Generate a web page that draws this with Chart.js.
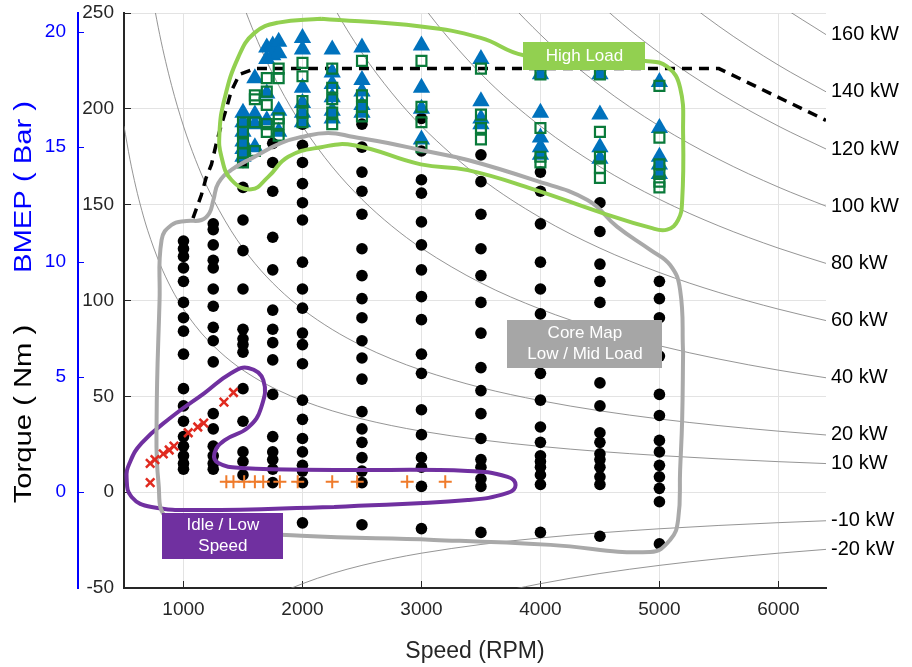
<!DOCTYPE html>
<html>
<head>
<meta charset="utf-8">
<script src="https://cdn.jsdelivr.net/npm/chart.js@4.4.1/dist/chart.umd.min.js"></script>
<style>
  html, body { margin: 0; padding: 0; background: #fff; }
  #map { display: block; }
</style>
</head>
<body>
<canvas id="map" width="912" height="667"></canvas>
<script>
// speed in rpm, torque in Nm
const coreRpm = [1000, 1250, 1500, 1750, 2000, 2500, 3000, 3500, 4000, 4500, 5000];
const coreTorque = [
  [131, 127, 123, 117, 110, 99, 91, 84, 72, 54, 45, 37, 29, 24, 19, 15, 12],
  [140, 137, 129, 121, 117, 106, 97, 86, 79, 68, 41, 33, 24, 19, 15, 12],
  [172, 159, 142, 126, 106, 85, 80, 77, 73, 54, 37, 21, 16, 9],
  [182, 172, 157, 133, 116, 95, 85, 78, 69, 51, 29, 21, 17, 12, 5],
  [192, 181, 172, 161, 151, 142, 120, 106, 96, 83, 77, 67, 48, 38, 28, 21, 14, 11, 5, -16],
  [192, 180, 167, 157, 145, 127, 113, 101, 91, 79, 70, 59, 42, 33, 26, 18, 11, 5, -17],
  [195, 178, 163, 156, 141, 129, 116, 102, 90, 72, 62, 43, 30, 18, 13, 3, -19],
  [176, 162, 145, 127, 113, 99, 83, 65, 53, 41, 28, 17, 13, 7, 3, -21],
  [167, 157, 140, 120, 106, 93, 76, 62, 48, 34, 26, 19, 16, 13, 9, 4, -21],
  [151, 136, 119, 110, 99, 57, 45, 31, 26, 20, 17, 13, 8, 4, -23],
  [110, 101, 91, 71, 51, 40, 27, 21, 14, 8, 2, -5, -27]
];

const highRpm = [1500, 1600, 1700, 1750, 1800, 2000, 2250, 2500, 3000, 3500, 4000, 4500, 5000];
const highTriTorque = [
  [198, 193, 188, 183, 179, 175],
  [216, 197, 192, 180],
  [232, 226, 208, 194],
  [233, 228],
  [235, 229, 199, 188],
  [237, 231, 211, 203, 198, 193],
  [231, 219, 213, 206, 199, 195],
  [232, 215, 209, 202, 198],
  [233, 211, 200, 184],
  [226, 204, 195, 192],
  [218, 198, 185, 180, 176],
  [218, 197, 180, 174],
  [214, 190, 175, 171, 166]
];
const highSqTorque = [
  [193, 188, 182, 177, 172],
  [207, 205, 193, 178],
  [216, 209, 202, 192, 188],
  [],
  [221, 216, 195, 192, 186],
  [224, 217, 204, 198, 193],
  [221, 211, 205, 198, 192],
  [225, 207, 201, 196],
  [225, 201, 193, 180],
  [221, 197, 190, 184],
  [218, 190, 175, 172],
  [218, 188, 175, 169, 164],
  [212, 185, 171, 166, 162, 159]
];

const idleRpm = [720, 720, 760, 830, 880, 920, 1040, 1120, 1170, 1340, 1420];
const idleTorque = [5, 15, 17, 20, 22, 24, 31, 34, 36, 47, 52];

const lowSpeedRpm = [1360, 1420, 1510, 1600, 1670, 1810, 1960, 2250, 2460, 2880, 3200];
const lowSpeedTorque = [5.5, 5.5, 5.5, 5.5, 5.5, 5.5, 5.5, 5.5, 5.5, 5.5, 5.5];

const maxRpm = [1080, 1150, 1190, 1235, 1280, 1320, 1360, 1400, 1470, 1600, 5500, 6400];
const maxTorque = [143, 155, 164, 171, 183, 192, 200, 209, 218, 221, 221, 194];

// hand drawn region outlines
const highLoadRpm = [2157, 2995, 3498, 3858, 4378, 4881, 5065, 5174, 5199, 5191, 5157, 5065, 4923, 4504, 3942, 3389, 2995, 2433, 2157, 1880, 1712, 1570, 1402, 1319, 1302, 1344, 1461, 1595, 1796, 2157];
const highLoadTorque = [247, 243, 237, 228, 226.5, 225, 222, 211, 187, 152, 142, 137, 138, 146, 158, 168, 171, 181, 180, 175, 164.5, 158, 163, 175, 187, 205, 227, 239.5, 245, 247];

const coreRegionRpm = [5199, 5191, 5174, 5157, 5090, 4923, 4085, 3104, 1989, 1151, 858, 790, 774, 799, 816, 899, 1025, 1151, 1218, 1251, 1293, 1402, 1595, 1821, 1989, 2215, 2433, 2718, 2995, 3389, 3942, 4395, 4646, 4923, 5090, 5174, 5199];
const coreRegionTorque = [72.6, 37.7, 11.6, -14.5, -24.9, -31.2, -27.5, -24.9, -22.8, -18.7, -13.5, 4.8, 37.7, 100.3, 131.6, 139.4, 141.5, 142, 145.7, 152.4, 161.3, 168.1, 174.9, 182.2, 185.3, 187.4, 185.3, 182.2, 178.5, 173.3, 162.9, 152.4, 138.4, 126.4, 118.5, 105.5, 72.6];

const idleRegionRpm = [2266, 3389, 3724, 3791, 3724, 3389, 2266, 1486, 1293, 1260, 1344, 1545, 1654, 1671, 1545, 1402, 1176, 899, 648, 547, 522, 564, 732, 1151, 2266];
const idleRegionTorque = [-7.7, -4.1, -0.4, 3.8, 8, 11.1, 11.6, 12.6, 15.2, 20.3, 27, 33.8, 44.3, 58.5, 64.8, 62.2, 51.7, 39.2, 25.6, 15.2, 7.4, -2.5, -7.7, -9.3, -7.7];

// constant power lines
const kwLevels = [160, 140, 120, 100, 80, 60, 40, 20, 10, -10, -20];
const curveRpm = [500, 550, 600, 650, 700, 800, 900, 1000, 1100, 1200, 1400, 1600, 1800, 2000, 2250, 2500, 2750, 3000, 3500, 4000, 4500, 5000, 5500, 6000, 6400];

const speedTicks = [1000, 2000, 3000, 4000, 5000, 6000];
const torqueTicks = [-50, 0, 50, 100, 150, 200, 250];
const bmepTicks = [0, 5, 10, 15, 20];

const FONT = '"Liberation Sans", Arial, sans-serif';
Chart.defaults.font.family = FONT;
Chart.defaults.color = '#262626';

function pairs(xs, ys) {
  return xs.map((v, i) => ({ x: v, y: ys[i] }));
}
function columns(xs, groups) {
  const out = [];
  xs.forEach((v, i) => groups[i].forEach(t => out.push({ x: v, y: t })));
  return out;
}
function powerLine(kw) {
  return curveRpm.map(n => ({ x: n, y: kw * 9549.3 / n })).filter(p => p.y < 330 && p.y > -130);
}
function noPad(s) {
  s.paddingTop = 0;
  s.paddingBottom = 0;
  s.paddingLeft = 0;
  s.paddingRight = 0;
}

const datasets = [];

kwLevels.forEach(kw => {
  datasets.push({
    data: powerLine(kw),
    showLine: true,
    borderColor: '#7a7a7a',
    borderWidth: 0.8,
    pointRadius: 0,
    cubicInterpolationMode: 'monotone',
    order: 20
  });
});

datasets.push({
  data: pairs(maxRpm, maxTorque),
  showLine: true,
  borderColor: '#000',
  borderWidth: 3.5,
  borderDash: [10, 7],
  pointRadius: 0,
  tension: 0,
  order: 15
});

datasets.push({
  data: columns(coreRpm, coreTorque),
  pointStyle: 'circle',
  pointRadius: 5.8,
  backgroundColor: '#000',
  borderColor: '#000',
  borderWidth: 0,
  order: 12
});

datasets.push({
  data: columns(highRpm, highTriTorque),
  pointStyle: 'triangle',
  pointRadius: 10,
  backgroundColor: '#0072bd',
  borderColor: '#0072bd',
  borderWidth: 0,
  order: 11
});

datasets.push({
  data: columns(highRpm, highSqTorque),
  pointStyle: 'rect',
  pointRadius: 7,
  backgroundColor: 'rgba(0,0,0,0)',
  borderColor: '#0a7a3a',
  borderWidth: 2.2,
  order: 10
});

const outlines = [
  [highLoadRpm, highLoadTorque, '#92d050'],
  [coreRegionRpm, coreRegionTorque, '#a9a9a9'],
  [idleRegionRpm, idleRegionTorque, '#7030a0']
];
outlines.forEach(([xs, ys, color]) => {
  datasets.push({
    data: pairs(xs, ys),
    showLine: true,
    borderColor: color,
    borderWidth: 4,
    pointRadius: 0,
    tension: 0.45,
    order: 6
  });
});

datasets.push({
  data: pairs(idleRpm, idleTorque),
  pointStyle: 'crossRot',
  pointRadius: 6,
  borderColor: '#e02a1f',
  borderWidth: 2.5,
  order: 3
});

datasets.push({
  data: pairs(lowSpeedRpm, lowSpeedTorque),
  pointStyle: 'cross',
  pointRadius: 6.5,
  borderColor: '#ef7b2b',
  borderWidth: 2,
  order: 3
});

const regionTags = [
  { rpm: 4370, torque: 227.6, w: 122, h: 28, color: '#92d050', lines: ['High Load'] },
  { rpm: 4374, torque: 77.3, w: 155, h: 48, color: '#a6a6a6', lines: ['Core Map', 'Low / Mid Load'] },
  { rpm: 1331, torque: -22.8, w: 121, h: 46, color: '#7030a0', lines: ['Idle / Low', 'Speed'] }
];

// draws rotated text stretched along its baseline
function sideTitle(ctx, text, cx, cy, color) {
  ctx.save();
  ctx.translate(cx, cy);
  ctx.rotate(-Math.PI / 2);
  ctx.scale(1.27, 1);
  ctx.fillStyle = color;
  ctx.fillText(text, 0, 0);
  ctx.restore();
}

const overlay = {
  id: 'overlay',
  afterDatasetsDraw(chart) {
    const { ctx, chartArea, scales: { x, y } } = chart;
    ctx.save();

    ctx.font = '20px ' + FONT;
    ctx.fillStyle = '#000';
    ctx.textAlign = 'left';
    ctx.textBaseline = 'middle';
    kwLevels.forEach(kw => {
      const t = kw * 9549.3 / x.max;
      ctx.fillText(kw + ' kW', chartArea.right + 5, y.getPixelForValue(t));
    });

    ctx.font = '17px ' + FONT;
    ctx.textAlign = 'center';
    regionTags.forEach(tag => {
      const cx = x.getPixelForValue(tag.rpm);
      const cy = y.getPixelForValue(tag.torque);
      ctx.fillStyle = tag.color;
      ctx.fillRect(Math.round(cx - tag.w / 2), Math.round(cy - tag.h / 2), tag.w, tag.h);
      ctx.fillStyle = '#fff';
      tag.lines.forEach((line, i) => {
        ctx.fillText(line, cx, cy + (i - (tag.lines.length - 1) / 2) * 21);
      });
    });

    // y axis titles, stacked on the far left
    ctx.font = '23px ' + FONT;
    ctx.textAlign = 'center';
    sideTitle(ctx, 'BMEP ( Bar )', 25, 187, '#0000ff');
    sideTitle(ctx, 'Torque ( Nm )', 25, 414, '#000');
    ctx.restore();
  }
};

new Chart(document.getElementById('map'), {
  type: 'scatter',
  data: { datasets },
  plugins: [overlay],
  options: {
    responsive: false,
    animation: false,
    events: [],
    layout: { padding: { left: 0, right: 86, top: 13, bottom: 0 } },
    elements: { line: { capBezierPoints: false } },
    plugins: {
      legend: { display: false },
      tooltip: { enabled: false }
    },
    scales: {
      x: {
        type: 'linear',
        min: 500,
        max: 6400,
        afterBuildTicks: s => { s.ticks = speedTicks.map(v => ({ value: v })); },
        afterFit: s => { s.height = 79; noPad(s); },
        grid: { color: '#e3e3e3', tickColor: '#262626', tickLength: -7, lineWidth: 1 },
        border: { color: '#262626', width: 2 },
        ticks: { font: { size: 19 }, color: '#262626', padding: 17, maxRotation: 0, callback: v => String(v) },
        title: { display: true, text: 'Speed (RPM)', font: { size: 23 }, color: '#262626', padding: { top: 0, bottom: 2 } }
      },
      y: {
        position: 'left',
        weight: 0,
        min: -50,
        max: 250,
        afterBuildTicks: s => { s.ticks = torqueTicks.map(v => ({ value: v })); },
        afterFit: s => { s.width = 46; noPad(s); },
        grid: { color: '#e3e3e3', tickColor: '#262626', tickLength: -7, lineWidth: 1 },
        border: { color: '#262626', width: 2 },
        ticks: { font: { size: 19 }, color: '#262626', padding: 17, callback: v => String(v) }
      },
      bmep: {
        position: 'left',
        weight: 1,
        min: -50 / 12,
        max: 250 / 12,
        afterBuildTicks: s => { s.ticks = bmepTicks.map(v => ({ value: v })); },
        afterFit: s => { s.width = 78; noPad(s); },
        grid: { drawOnChartArea: false, color: '#0000ff', tickColor: '#0000ff', tickLength: -6 },
        border: { color: '#0000ff', width: 2 },
        ticks: { font: { size: 19 }, color: '#0000ff', padding: 18, callback: v => String(v) }
      }
    }
  }
});
</script>
</body>
</html>
